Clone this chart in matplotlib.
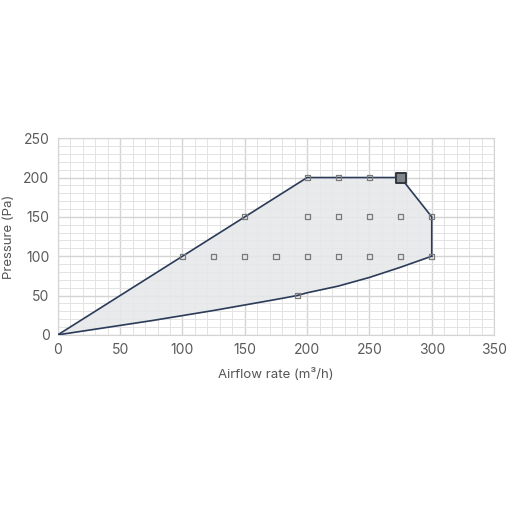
import matplotlib
matplotlib.use("Agg")
import matplotlib.pyplot as plt
import numpy as np

plt.rcParams['font.family'] = ['Inter', 'DejaVu Sans']

# envelope upper boundary
upper_q = [0, 100, 150, 200, 225, 250, 275, 300, 300]
upper_p = [0, 100, 150, 200, 200, 200, 200, 150, 100]
# lower curve
lower_q = [0, 25, 50, 75, 100, 125, 150, 175, 192, 200, 225, 250, 275, 300]
lower_p = [0, 6, 12, 18, 24.5, 31, 38, 45, 50, 53.5, 62, 73, 86, 100]

# measurement points
pts_q = [100, 125, 150, 175, 200, 225, 250, 275, 300,
         150, 200, 225, 250, 275, 300,
         200, 225, 250, 192]
pts_p = [100, 100, 100, 100, 100, 100, 100, 100, 100,
         150, 150, 150, 150, 150, 150,
         200, 200, 200, 50]
sel_q, sel_p = 275, 200

fig = plt.figure(figsize=(5.12, 5.12), dpi=100)
ax = fig.add_axes([0.113, 0.346, 0.852, 0.384])

line_col = "#2c3b58"
poly_q = upper_q + lower_q[::-1]
poly_p = upper_p + lower_p[::-1]
ax.fill(poly_q, poly_p, color="#e6e8ea", alpha=0.9, zorder=1)
ax.plot(upper_q, upper_p, color=line_col, lw=1.2, zorder=3)
ax.plot(lower_q, lower_p, color=line_col, lw=1.2, zorder=3)

ax.scatter(pts_q, pts_p, marker="s", s=14, facecolor="none",
           edgecolor="#7a7a7a", linewidths=0.9, zorder=4)
ax.scatter([sel_q], [sel_p], marker="s", s=55, facecolor="#80858c",
           edgecolor="#33363b", linewidths=1.4, zorder=5)

ax.set_xlim(0, 350)
ax.set_ylim(0, 250)
ax.set_xticks(np.arange(0, 351, 50))
ax.set_yticks(np.arange(0, 251, 50))
ax.set_xticks(np.arange(0, 351, 10), minor=True)
ax.set_yticks(np.arange(0, 251, 10), minor=True)
ax.grid(which="major", color="#d4d4d4", lw=1.0, zorder=0)
ax.grid(which="minor", color="#e3e3e3", lw=0.7, zorder=0)
ax.set_axisbelow(True)
ax.tick_params(which="both", length=0, labelsize=10, labelcolor="#5a5a5a", pad=6)
for s in ax.spines.values():
    s.set_color("#d4d4d4")

ax.set_xlabel("Airflow rate (m³/h)", fontsize=9.5, color="#555555", labelpad=8)
ax.set_ylabel("Pressure (Pa)", fontsize=9.5, color="#555555", labelpad=6)

fig.savefig("out.png", dpi=100)
